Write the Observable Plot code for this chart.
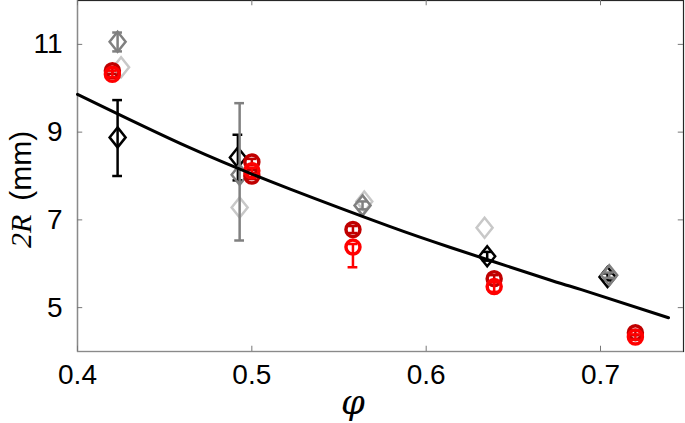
<!DOCTYPE html>
<html><head><meta charset="utf-8">
<script src="https://cdn.jsdelivr.net/npm/d3@7"></script>
<script src="https://cdn.jsdelivr.net/npm/@observablehq/plot@0.6"></script>
<style>body{margin:0;background:#fff}#c{width:685px;height:423px}</style>
</head><body><div id="c"></div>
<script>
// ---- data ----
const xTicks = [0.4, 0.5, 0.6, 0.7];
const yTicks = [5, 7, 9, 11];
const xDomain = [0.4, 0.7476];
const yDomain = [4, 12];

// black diamonds
const phiK = [0.423, 0.492, 0.635, 0.704];
const rK   = [8.88, 8.42, 6.17, 5.70];
const loK  = [8.00, 7.90, 6.07, 5.62];
const hiK  = [9.73, 8.94, 6.27, 5.78];
// grey diamonds
const phiG = [0.423, 0.493, 0.5635, 0.705];
const rG   = [11.06, 8.03, 7.33, 5.74];
const loG  = [10.84, 6.53, 7.24, 5.68];
const hiG  = [11.27, 9.66, 7.42, 5.80];
// light grey diamonds
const phiL = [0.425, 0.493, 0.5645, 0.6335];
const rL   = [10.48, 7.28, 7.42, 6.82];
// dark red circles
const phiR = [0.420, 0.500, 0.500, 0.558, 0.639, 0.720];
const rR   = [10.40, 8.32, 8.00, 6.78, 5.66, 4.43];
const loR  = [10.33, 8.25, 7.93, 6.70, 5.58, 4.37];
const hiR  = [10.47, 8.39, 8.07, 6.86, 5.74, 4.49];
// bright red circles
const phiB = [0.420, 0.500, 0.558, 0.639, 0.720];
const rB   = [10.32, 8.12, 6.38, 5.48, 4.33];
const loB  = [10.25, 8.05, 5.92, 5.36, 4.27];
const hiB  = [10.40, 8.19, 6.45, 5.58, 4.39];
// fitted curve
const phiFit = [0.400, 0.464, 0.522, 0.579, 0.614, 0.671, 0.689, 0.739];
const rFit   = [9.86, 8.65, 7.70, 6.85, 6.37, 5.63, 5.41, 4.77];

// ---- tables ----
const mk = (phi, r, lo, hi) => phi.map((p, i) => ({phi: p, r: r[i], lo: lo ? lo[i] : null, hi: hi ? hi[i] : null}));
const K = mk(phiK, rK, loK, hiK);
const G = mk(phiG, rG, loG, hiG);
const L = mk(phiL, rL);
const R = mk(phiR, rR, loR, hiR);
const B = mk(phiB, rB, loB, hiB);
const fit = mk(phiFit, rFit);

const tallDiamond = {draw(ctx) { const w = 8, h = 10; ctx.moveTo(0, -h); ctx.lineTo(w, 0); ctx.lineTo(0, h); ctx.lineTo(-w, 0); ctx.closePath(); }};
const cap = 0.0028;

function errMarks(data, color, sw) {
  return [
    Plot.ruleX(data, {x: "phi", y1: "lo", y2: "hi", stroke: color, strokeWidth: sw}),
    Plot.ruleY(data, {y: "lo", x1: d => d.phi - cap, x2: d => d.phi + cap, stroke: color, strokeWidth: sw}),
    Plot.ruleY(data, {y: "hi", x1: d => d.phi - cap, x2: d => d.phi + cap, stroke: color, strokeWidth: sw})
  ];
}
function diamonds(data, color) {
  return Plot.dot(data, {x: "phi", y: "r", symbol: tallDiamond, stroke: color, fill: "none", strokeWidth: 2.5});
}
function circles(data, color) {
  return Plot.dot(data, {x: "phi", y: "r", r: 7, stroke: color, fill: "none", strokeWidth: 3.5});
}

const tlx = 0.003, tly = 0.12;
const plot = Plot.plot({
  width: 685, height: 423,
  marginLeft: 77, marginRight: 2, marginTop: 0, marginBottom: 72,
  x: {domain: xDomain, label: null},
  y: {domain: yDomain, label: null},
  style: {fontFamily: "'Liberation Sans', Arial, sans-serif", background: "#fff"},
  marks: [
    Plot.frame({stroke: "#262626", strokeWidth: 1.2}),
    Plot.ruleX([xDomain[0]], {stroke: "#8a8a8a", strokeWidth: 1.2}),
    Plot.ruleY([yDomain[0]], {stroke: "#8a8a8a", strokeWidth: 1.2}),
    // inward ticks
    Plot.ruleY(yTicks, {y: d => d, x1: () => xDomain[0], x2: () => xDomain[0] + tlx, stroke: "#777"}),
    Plot.ruleY(yTicks, {y: d => d, x1: () => xDomain[1] - tlx, x2: () => xDomain[1], stroke: "#777"}),
    Plot.ruleX(xTicks, {x: d => d, y1: () => yDomain[0], y2: () => yDomain[0] + tly, stroke: "#777"}),
    Plot.ruleX(xTicks, {x: d => d, y1: () => yDomain[1] - tly, y2: () => yDomain[1], stroke: "#777"}),
    Plot.axisX(xTicks, {tickSize: 0, tickPadding: 13, fontSize: 28, tickFormat: d => d.toFixed(1), fill: "#000"}),
    Plot.axisY(yTicks, {tickSize: 0, tickPadding: 15, fontSize: 28, tickFormat: d => String(d), fill: "#000"}),
    // light grey
    diamonds(L, "#c8c8c8"),
    // black
    ...errMarks(K, "#000", 2.5),
    diamonds(K, "#000"),
    // grey
    ...errMarks(G, "#808080", 2.5),
    diamonds(G, "#808080"),
    // reds
    ...errMarks(R, "#c00000", 2.5),
    circles(R, "#c00000"),
    ...errMarks(B, "#ff0000", 2.5),
    circles(B, "#ff0000"),
    // fit
    Plot.line(fit, {x: "phi", y: "r", curve: "natural", stroke: "#000", strokeWidth: 3})
  ]
});
document.getElementById("c").appendChild(plot);

// axis titles
const svg = d3.select(plot);
svg.append("text")
  .attr("x", 353).attr("y", 414)
  .attr("text-anchor", "middle")
  .style("font-family", "'DejaVu Serif', 'Liberation Serif', serif")
  .style("font-style", "italic")
  .style("font-size", "34px")
  .text("φ");
const yl = svg.append("text")
  .attr("transform", "translate(31,248) rotate(-90)")
  .attr("text-anchor", "start")
  .style("font-size", "30px");
yl.append("tspan")
  .style("font-family", "'Liberation Serif', serif")
  .style("font-style", "italic")
  .text("2R");
yl.append("tspan")
  .attr("dx", 14)
  .style("font-family", "'Liberation Sans', Arial, sans-serif")
  .text("(mm)");
</script>
</body></html>
